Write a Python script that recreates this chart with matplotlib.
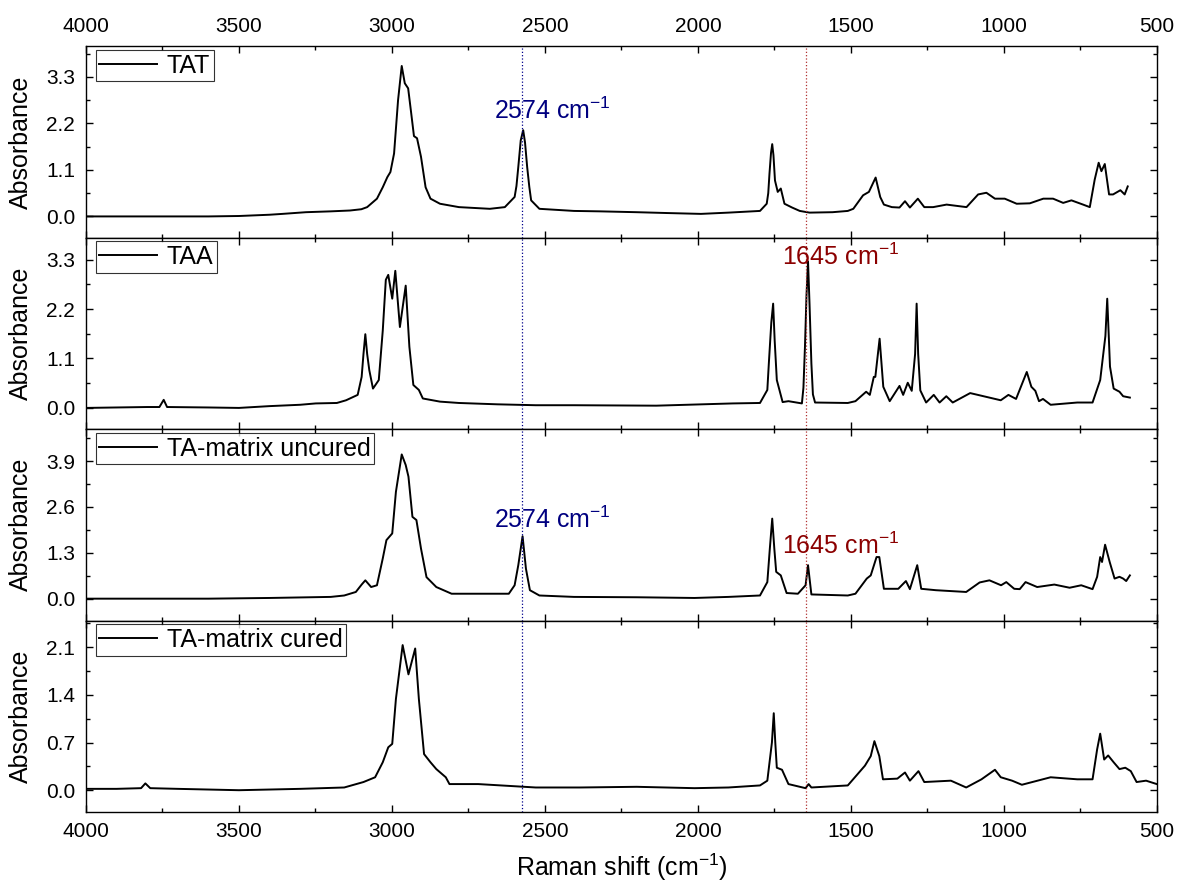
import numpy as np
import matplotlib
matplotlib.use('Agg')
import matplotlib.pyplot as plt
from matplotlib.ticker import MultipleLocator, FormatStrFormatter

plt.rcParams['font.family'] = ['Liberation Sans', 'DejaVu Sans']
plt.rcParams['mathtext.fontset'] = 'custom'
plt.rcParams['mathtext.rm'] = 'Liberation Sans'
plt.rcParams['mathtext.it'] = 'Liberation Sans:italic'
plt.rcParams['mathtext.bf'] = 'Liberation Sans:bold'

# spectra: (Raman shift cm-1, absorbance)
tat = [(4000, 0.0), (3800, 0.0), (3600, 0.0), (3500, 0.01), (3400, 0.04), (3358, 0.06),
       (3281, 0.1), (3200, 0.12), (3137, 0.14), (3100, 0.17), (3081, 0.22), (3049, 0.42),
       (3030, 0.69), (3015, 0.93), (3005, 1.05), (2993, 1.49), (2980, 2.75), (2968, 3.56),
       (2958, 3.15), (2947, 3.03), (2937, 2.44), (2928, 1.9), (2918, 1.85), (2905, 1.41),
       (2890, 0.69), (2874, 0.42), (2843, 0.3), (2781, 0.22), (2680, 0.18), (2631, 0.22),
       (2599, 0.46), (2593, 0.72), (2587, 1.17), (2579, 1.8), (2571, 2.04), (2565, 1.75),
       (2558, 1.17), (2551, 0.7), (2545, 0.38), (2518, 0.18),
       (2405, 0.13), (2320, 0.12), (2200, 0.1), (2100, 0.08), (1990, 0.06), (1900, 0.09),
       (1797, 0.13), (1775, 0.3), (1770, 0.55), (1766, 1.01), (1761, 1.5), (1757, 1.71),
       (1753, 1.45), (1748, 0.85), (1739, 0.58),
       (1729, 0.66), (1717, 0.3), (1692, 0.21), (1667, 0.13), (1635, 0.09), (1560, 0.1),
       (1510, 0.13), (1492, 0.18), (1460, 0.5), (1441, 0.58), (1419, 0.92), (1404, 0.46),
       (1392, 0.28), (1366, 0.22), (1341, 0.21), (1323, 0.36), (1307, 0.21), (1281, 0.42),
       (1260, 0.22), (1231, 0.22), (1187, 0.28), (1122, 0.22), (1084, 0.52), (1057, 0.56),
       (1029, 0.42), (997, 0.42), (958, 0.3), (915, 0.31), (871, 0.42), (839, 0.42),
       (806, 0.32), (779, 0.38), (741, 0.28), (719, 0.22), (703, 0.87), (690, 1.27),
       (681, 1.07), (670, 1.24), (656, 0.52), (643, 0.52), (619, 0.62), (605, 0.52),
       (595, 0.71)]

taa = [(4000, 0.0), (3900, 0.01), (3800, 0.02), (3760, 0.02), (3746, 0.18), (3735, 0.02),
       (3600, 0.01), (3500, 0.0), (3400, 0.04), (3300, 0.07), (3249, 0.1), (3180, 0.11),
       (3150, 0.17), (3112, 0.29), (3099, 0.69), (3093, 1.2), (3087, 1.64), (3081, 1.2),
       (3074, 0.84), (3062, 0.43),
       (3043, 0.62), (3030, 1.72), (3020, 2.85), (3012, 2.96), (2999, 2.43), (2989, 3.05),
       (2974, 1.8), (2955, 2.72), (2943, 1.36), (2930, 0.51), (2912, 0.4), (2899, 0.21),
       (2843, 0.14), (2781, 0.11), (2655, 0.08), (2530, 0.06), (2405, 0.06), (2136, 0.05),
       (1886, 0.1), (1797, 0.11), (1773, 0.4), (1768, 1.0), (1760, 1.9), (1754, 2.32),
       (1749, 1.5), (1742, 0.62), (1723, 0.13),
       (1704, 0.15), (1660, 0.1), (1655, 0.45), (1650, 1.36), (1645, 2.5), (1640, 3.26),
       (1635, 2.3), (1629, 0.99), (1624, 0.3), (1617, 0.12),
       (1510, 0.11), (1485, 0.15), (1450, 0.36), (1438, 0.29), (1425, 0.69), (1420, 0.69),
       (1406, 1.54), (1394, 0.47), (1373, 0.15), (1341, 0.49), (1329, 0.29), (1314, 0.56),
       (1301, 0.38), (1290, 1.2), (1285, 2.32), (1280, 1.2), (1273, 0.39), (1254, 0.12),
       (1229, 0.29), (1210, 0.12),
       (1188, 0.26), (1167, 0.12), (1110, 0.33), (1060, 0.25), (1010, 0.17), (985, 0.29),
       (960, 0.2), (925, 0.8), (910, 0.47), (897, 0.38), (885, 0.15), (872, 0.2),
       (847, 0.07), (760, 0.12), (710, 0.12), (685, 0.62), (668, 1.6), (662, 2.43),
       (657, 1.6), (653, 0.92),
       (641, 0.43), (622, 0.36), (610, 0.26), (588, 0.23)]

uncured = [(4000, 0.0), (3800, 0.0), (3600, 0.0), (3400, 0.02), (3200, 0.05), (3156, 0.09),
           (3118, 0.19), (3099, 0.4), (3087, 0.52), (3068, 0.33), (3049, 0.38), (3030, 1.14),
           (3018, 1.66), (2999, 1.85), (2987, 3.03), (2968, 4.09), (2955, 3.79), (2946, 3.46),
           (2933, 2.32), (2920, 2.23), (2905, 1.42), (2887, 0.61), (2855, 0.33), (2805, 0.14),
           (2718, 0.14), (2618, 0.14), (2599, 0.38), (2587, 0.95), (2573, 1.77), (2562, 0.85),
           (2549, 0.24), (2518, 0.09), (2405, 0.05), (2200, 0.04), (2011, 0.02), (1900, 0.05),
           (1797, 0.09), (1773, 0.47), (1765, 1.4), (1757, 2.27), (1750, 1.4), (1744, 0.76),
           (1729, 0.66), (1710, 0.16),
           (1673, 0.14), (1648, 0.38), (1640, 0.95), (1629, 0.12), (1510, 0.09), (1485, 0.14),
           (1448, 0.57), (1435, 0.66), (1416, 1.18), (1407, 1.18), (1392, 0.28), (1366, 0.28),
           (1345, 0.28), (1320, 0.5), (1307, 0.27), (1283, 0.95), (1270, 0.28), (1222, 0.24),
           (1123, 0.19), (1079, 0.46), (1047, 0.52), (1009, 0.38), (992, 0.47), (966, 0.28),
           (948, 0.27), (929, 0.47), (891, 0.33), (835, 0.4), (785, 0.31), (747, 0.38),
           (710, 0.27), (695, 0.62), (685, 1.18), (679, 1.04), (669, 1.53), (654, 1.04),
           (638, 0.57), (622, 0.62), (610, 0.57), (600, 0.5), (588, 0.66)]

cured = [(4000, 0.02), (3900, 0.02), (3820, 0.03), (3806, 0.1), (3790, 0.03), (3700, 0.02),
         (3500, 0.0), (3300, 0.02), (3156, 0.04), (3093, 0.12), (3055, 0.19), (3030, 0.41),
         (3012, 0.63), (2999, 0.68), (2987, 1.34), (2965, 2.13), (2946, 1.70), (2924, 2.08),
         (2912, 1.34), (2895, 0.53), (2874, 0.41), (2855, 0.31), (2824, 0.19), (2812, 0.09),
         (2718, 0.09), (2530, 0.04), (2386, 0.04), (2200, 0.05), (2011, 0.03), (1900, 0.04),
         (1797, 0.07), (1773, 0.14), (1758, 0.7), (1752, 1.13), (1747, 0.7), (1742, 0.33),
         (1725, 0.3), (1704, 0.09),
         (1648, 0.03), (1638, 0.09), (1629, 0.04), (1510, 0.07), (1454, 0.36), (1435, 0.5),
         (1423, 0.72), (1407, 0.5), (1395, 0.16), (1348, 0.17), (1323, 0.26), (1307, 0.14),
         (1279, 0.28), (1260, 0.12), (1173, 0.14), (1123, 0.04), (1073, 0.16), (1029, 0.3),
         (1010, 0.19), (973, 0.14), (941, 0.08), (847, 0.19), (760, 0.16), (710, 0.16),
         (695, 0.6), (685, 0.83), (672, 0.45), (659, 0.51), (641, 0.41), (622, 0.31),
         (603, 0.33), (585, 0.28), (566, 0.12), (535, 0.14), (500, 0.09)]

labels = ['TAT', 'TAA', 'TA-matrix uncured', 'TA-matrix cured']
spectra = [tat, taa, uncured, cured]
ylims = [(-0.5, 4.03), (-0.47, 3.79), (-0.62, 4.81), (-0.32, 2.49)]
ystep = [1.1, 1.1, 1.3, 0.7]

thiol_line = 2574
ene_line = 1645

fig, axes = plt.subplots(4, 1, sharex=True, figsize=(11.78, 8.86), dpi=100)
fig.subplots_adjust(left=0.073, right=0.982, top=0.948, bottom=0.0835, hspace=0)

for i, ax in enumerate(axes):
    d = np.array(spectra[i]).T
    ax.plot(d[0], d[1], color='black', lw=1.4, label=labels[i])
    ax.axvline(thiol_line, color='#00008b', ls=':', lw=0.9)
    ax.axvline(ene_line, color='#b03030', ls=':', lw=0.9)
    ax.set_xlim(4000, 500)
    ax.set_ylim(*ylims[i])
    ax.yaxis.set_major_locator(MultipleLocator(ystep[i]))
    ax.yaxis.set_minor_locator(MultipleLocator(ystep[i] / 2))
    ax.yaxis.set_major_formatter(FormatStrFormatter('%.1f'))
    ax.xaxis.set_major_locator(MultipleLocator(500))
    ax.xaxis.set_minor_locator(MultipleLocator(250))
    ax.tick_params(which='both', direction='in', top=True, right=True,
                   labelsize=15, labelbottom=False)
    ax.tick_params(which='major', length=5, width=1)
    ax.tick_params(which='minor', length=3, width=1)
    ax.tick_params(axis='y', pad=8)
    ax.tick_params(axis='x', pad=7)
    for s in ax.spines.values():
        s.set_linewidth(1.0)
    ax.set_ylabel('Absorbance', fontsize=18)
    ax.yaxis.set_label_coords(-0.05, 0.5)
    leg = ax.legend(loc='upper left', bbox_to_anchor=(0.009, 0.98), borderaxespad=0,
                    fontsize=18, frameon=True, fancybox=False, borderpad=0.15,
                    handlelength=2.3, handletextpad=0.4)
    leg.get_frame().set_edgecolor('black')
    leg.get_frame().set_linewidth(0.8)

axes[0].tick_params(labeltop=True)
axes[3].tick_params(labelbottom=True)
axes[3].set_xlabel('Raman shift (cm$^{-1}$)', fontsize=18, labelpad=8)

axes[0].text(2665, 2.49, '2574 cm$^{-1}$', color='#000080', fontsize=18, ha='left', va='center')
axes[2].text(2668, 2.25, '2574 cm$^{-1}$', color='#000080', fontsize=18, ha='left', va='center')
axes[1].text(1725, 3.37, '1645 cm$^{-1}$', color='#8b0000', fontsize=18, ha='left', va='center')
axes[2].text(1725, 1.49, '1645 cm$^{-1}$', color='#8b0000', fontsize=18, ha='left', va='center')

plt.savefig('out.png', dpi=100)
